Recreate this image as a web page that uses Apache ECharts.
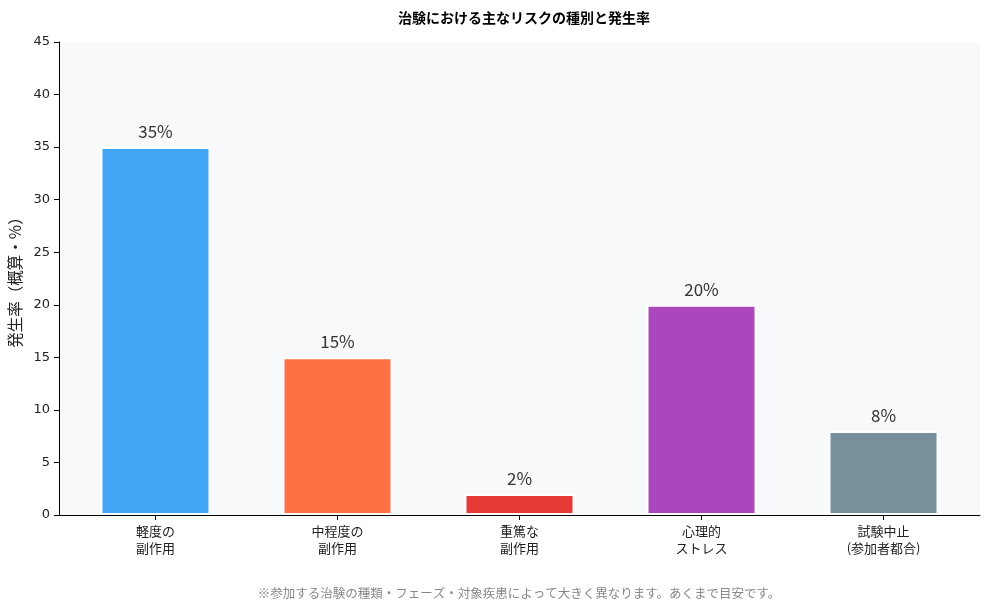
<!DOCTYPE html>
<html>
<head>
<meta charset="utf-8">
<script src="https://cdn.jsdelivr.net/npm/echarts@6/dist/echarts.min.js"></script>
<style>
  html, body { margin: 0; padding: 0; background: #ffffff; }
  #chart { width: 989px; height: 613px; }
</style>
</head>
<body>
<div id="chart"></div>
<script>
const categories = ['軽度の\n副作用', '中程度の\n副作用', '重篤な\n副作用', '心理的\nストレス', '試験中止\n(参加者都合)']
const rates = [35, 15, 2, 20, 8]
const barColors = ['#42a5f5', '#ff7043', '#e53935', '#ab47bc', '#78909c']
const positions = [0, 1, 2, 3, 4]

const chart = echarts.init(document.getElementById('chart'))

const option = {
  backgroundColor: '#ffffff',
  textStyle: { fontFamily: '"Noto Sans CJK JP", "Noto Sans", sans-serif' },
  title: {
    text: '治験における主なリスクの種別と発生率',
    left: 519,
    top: 6,
    textAlign: 'center',
    textStyle: { fontSize: 14, fontWeight: 'bold', color: '#000' }
  },
  graphic: [
    {
      type: 'text',
      x: 519,
      y: 587,
      style: {
        text: '※参加する治験の種類・フェーズ・対象疾患によって大きく異なります。あくまで目安です。',
        fontSize: 12.5,
        fill: '#888',
        align: 'center',
        fontFamily: '"Noto Sans CJK JP", sans-serif'
      }
    }
  ],
  grid: {
    left: 59,
    right: 9,
    top: 42,
    bottom: 98,
    outerBoundsMode: 'none',
    show: true,
    backgroundColor: '#f8f9fb',
    borderWidth: 0
  },
  xAxis: {
    type: 'value',
    min: -0.53,
    max: 4.53,
    splitLine: { show: false },
    axisLine: { show: true, onZero: false, lineStyle: { color: '#000', width: 1 } },
    axisTick: { show: true, customValues: positions, length: 5, lineStyle: { color: '#000' } },
    axisLabel: {
      customValues: positions,
      formatter: v => categories[Math.round(v)],
      color: '#222',
      fontSize: 13,
      lineHeight: 17,
      margin: 8
    }
  },
  yAxis: {
    type: 'value',
    min: 0,
    max: 45,
    interval: 5,
    name: '発生率（概算・%）',
    nameLocation: 'middle',
    nameGap: 34,
    nameTextStyle: { fontSize: 15.5, color: '#222' },
    splitLine: { show: false },
    axisLine: { show: true, onZero: false, lineStyle: { color: '#000', width: 1 } },
    axisTick: { show: true, length: 5, lineStyle: { color: '#000' } },
    axisLabel: { color: '#222', fontSize: 13, margin: 9, fontFamily: '"DejaVu Sans", sans-serif' }
  },
  series: [
    {
      type: 'bar',
      barWidth: 110,
      data: rates.map((v, i) => ({
        value: [positions[i], v],
        itemStyle: { color: barColors[i] }
      })),
      itemStyle: { borderColor: '#fff', borderWidth: 2 },
      label: {
        show: true,
        position: 'top',
        formatter: p => p.value[1] + '%',
        fontSize: 17,
        color: '#333',
        distance: 7
      }
    }
  ]
}

chart.setOption(option)
</script>
</body>
</html>
